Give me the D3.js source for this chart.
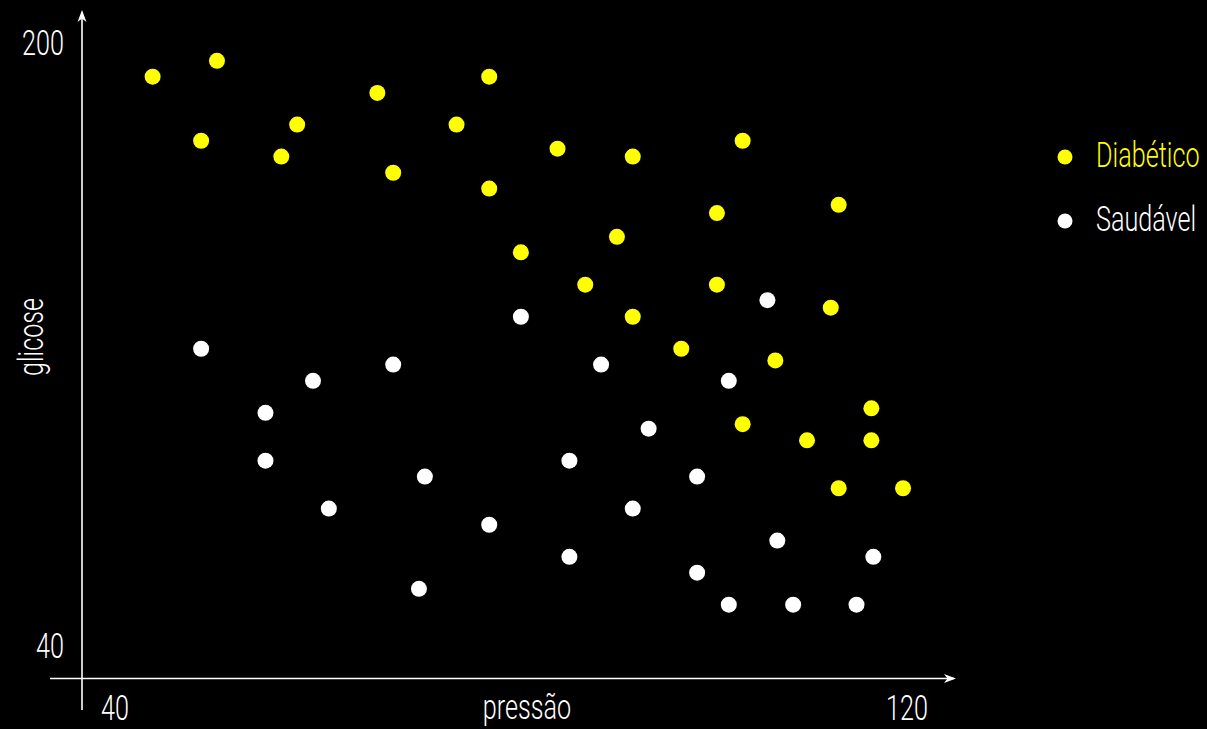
<!DOCTYPE html>
<html>
<head>
<meta charset="utf-8">
<script src="https://cdn.jsdelivr.net/npm/d3@7"></script>
<style>
  html, body { margin: 0; padding: 0; background: #000; }
  svg { display: block; }
  text { font-family: Roboto, "Open Sans", sans-serif; font-weight: 300; }
</style>
</head>
<body>
<svg id="chart" width="1207" height="729"></svg>
<script>
// ---- data ----
const seriesNames = ["Diabético", "Saudável"];
const seriesColors = ["#ffff00", "#ffffff"];

const diabeticoPressao = [43.8, 50.3, 66.5, 58.4, 48.7, 56.8, 68.1, 77.8, 74.5, 84.7, 92.3, 77.8, 100.8, 90.7, 81.0, 87.5, 100.8, 92.3, 103.4, 113.1, 112.3, 97.2, 106.7, 116.4, 103.4, 109.9, 116.4, 113.1, 119.6];
const diabeticoGlicose = [190.8, 195.0, 186.5, 178.1, 173.8, 169.6, 165.3, 190.8, 178.1, 171.7, 169.6, 161.1, 154.6, 148.3, 144.2, 135.6, 135.6, 127.1, 173.8, 156.8, 129.5, 118.6, 115.5, 102.8, 98.6, 94.3, 94.3, 81.6, 81.6];

const saudavelPressao = [81.0, 105.9, 48.7, 68.1, 60.0, 89.1, 102.0, 55.2, 93.9, 55.2, 85.9, 71.3, 98.8, 61.6, 92.3, 77.8, 106.9, 85.9, 116.6, 98.8, 70.7, 102.0, 108.5, 114.9];
const saudavelGlicose = [127.1, 131.5, 118.6, 114.4, 110.1, 114.4, 110.1, 101.6, 97.4, 88.9, 88.9, 84.7, 84.7, 76.2, 76.2, 71.9, 67.7, 63.4, 63.4, 59.2, 54.9, 50.7, 50.7, 50.7];

const xTicks = [40, 120];
const yTicks = [40, 200];
const xTitle = "pressão";
const yTitle = "glicose";

// ---- layout ----
const svg = d3.select("#chart");
svg.append("rect").attr("width", 1207).attr("height", 729).attr("fill", "#000");

const x = d3.scaleLinear().domain([40, 120]).range([115, 907]);
const y = d3.scaleLinear().domain([40, 200]).range([645, 42]);

const axisX = 82, axisY = 678.5;
const SX = 0.7; // horizontal condensing for text

function label(g, txt, tx, ty, anchor, color, size, rot) {
  const t = g.append("text")
    .attr("transform", `translate(${tx},${ty})` + (rot ? ` rotate(${rot})` : "") + ` scale(${SX},1)`)
    .attr("text-anchor", anchor)
    .attr("fill", color)
    .attr("font-size", size)
    .text(txt);
  return t;
}

// axes
const ax = svg.append("g");
ax.append("line").attr("x1", axisX).attr("x2", axisX).attr("y1", 12).attr("y2", 710)
  .attr("stroke", "#fff").attr("stroke-width", 1.6);
ax.append("line").attr("x1", 50).attr("x2", 954).attr("y1", axisY).attr("y2", axisY)
  .attr("stroke", "#fff").attr("stroke-width", 1.6);
// arrowheads
ax.append("path").attr("d", `M${axisX},10 L${axisX-4.5},22 L${axisX},18.5 L${axisX+4.5},22 Z`).attr("fill", "#fff");
ax.append("path").attr("d", `M956,${axisY} L944,${axisY-4.5} L947.5,${axisY} L944,${axisY+4.5} Z`).attr("fill", "#fff");

// tick labels
yTicks.forEach(v => label(ax, String(v), 64, y(v) + 13, "end", "#fff", 36));
xTicks.forEach(v => label(ax, String(v), x(v), 720, "middle", "#fff", 36));

// axis titles
label(ax, xTitle, (x(40) + x(120)) / 2 + 16, 719, "middle", "#fff", 36);
label(ax, yTitle, 43, 337, "middle", "#fff", 36, -90);

// points
const pts = svg.append("g");
function drawSeries(xs, ys, color) {
  const data = xs.map((v, i) => ({ x: v, y: ys[i] }));
  pts.selectAll(null).data(data).enter().append("circle")
    .attr("cx", d => x(d.x)).attr("cy", d => y(d.y)).attr("r", 8).attr("fill", color);
}
drawSeries(diabeticoPressao, diabeticoGlicose, seriesColors[0]);
drawSeries(saudavelPressao, saudavelGlicose, seriesColors[1]);

// legend
const lg = svg.append("g");
seriesNames.forEach((name, i) => {
  const cy = 157 + i * 64;
  lg.append("circle").attr("cx", 1065).attr("cy", cy).attr("r", 7.5).attr("fill", seriesColors[i]);
  label(lg, name, 1096, cy + 9.5, "start", seriesColors[i], 36);
});
</script>
</body>
</html>
